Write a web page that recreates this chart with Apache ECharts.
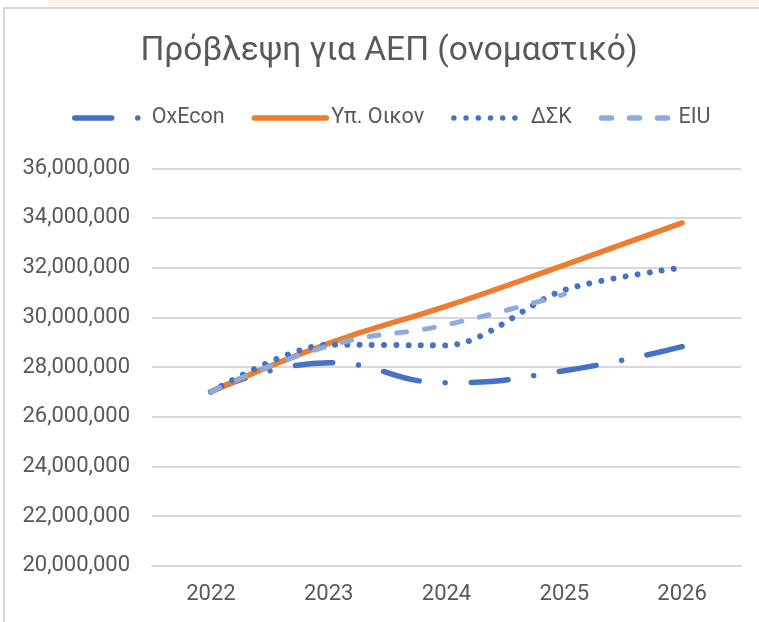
<!DOCTYPE html>
<html>
<head>
<meta charset="utf-8">
<script src="https://cdn.jsdelivr.net/npm/echarts@6/dist/echarts.min.js"></script>
<style>
html,body{margin:0;padding:0;background:#fff;}
#chart{width:759px;height:622px;}
</style>
</head>
<body>
<div id="chart"></div>
<script>
const titleText = 'Πρόβλεψη για ΑΕΠ (ονομαστικό)';
const categories = ['2022', '2023', '2024', '2025', '2026'];
const seriesNames = ['OxEcon', 'Υπ. Οικον', 'ΔΣΚ', 'EIU'];
const oxEcon = [27000000, 28170000, 27370000, 27850000, 28820000];
const ypOikon = [27000000, 28950000, 30450000, 32100000, 33800000];
const dsk = [27000000, 28900000, 28870000, 31100000, 32000000];
const eiu = [27000000, 28850000, 29700000, 30930000, null];
const yMin = 20000000, yMax = 36000000, yStep = 2000000;

const FONT = 'Roboto';
const TXT = '#595959';

const chart = echarts.init(document.getElementById('chart'), null, {renderer: 'canvas'});
chart.setOption({
  backgroundColor: '#ffffff',
  animation: false,
  graphic: [
    {type: 'rect', shape: {x: 48, y: 0, width: 711, height: 7}, style: {fill: '#FDF6EE'}, silent: true},
    {type: 'rect', shape: {x: 3, y: 7, width: 756, height: 2}, style: {fill: '#D9D9D9'}, silent: true},
    {type: 'rect', shape: {x: 3, y: 7, width: 2, height: 615}, style: {fill: '#D9D9D9'}, silent: true}
  ],
  title: {
    text: titleText,
    left: 389,
    top: 35,
    padding: 0,
    textAlign: 'center',
    textStyle: {fontFamily: FONT, fontSize: 33.5, fontWeight: 'normal', color: TXT}
  },
  legend: {
    data: seriesNames,
    left: 72,
    top: 107,
    padding: 0,
    itemWidth: 72,
    itemHeight: 14,
    itemGap: 27,
    itemStyle: {color: 'transparent', borderColor: 'transparent', borderWidth: 0, opacity: 0},
    lineStyle: {width: 5.5},
    textStyle: {fontFamily: FONT, fontSize: 21.5, color: TXT}
  },
  grid: {left: 152, right: 18, top: 168.3, bottom: 56.3, containLabel: false},
  xAxis: {
    type: 'category',
    data: categories,
    boundaryGap: true,
    axisLine: {show: true, lineStyle: {color: '#D9D9D9', width: 2}},
    axisTick: {show: false},
    axisLabel: {fontFamily: FONT, fontSize: 22, color: TXT, margin: 18}
  },
  yAxis: {
    type: 'value',
    min: yMin,
    max: yMax,
    interval: yStep,
    axisLine: {show: false},
    axisTick: {show: false},
    splitLine: {lineStyle: {color: '#D9D9D9', width: 2}},
    axisLabel: {
      fontFamily: FONT, fontSize: 22, color: TXT, margin: 22,
      formatter: v => v.toLocaleString('en-US')
    }
  },
  series: [
    {
      name: seriesNames[0], type: 'line', data: oxEcon, smooth: 0.5, symbol: 'none',
      lineStyle: {color: '#4472C4', width: 5.5, type: [37, 26, 0.01, 26], cap: 'round'},
      itemStyle: {color: '#4472C4'}
    },
    {
      name: seriesNames[1], type: 'line', data: ypOikon, smooth: 0.5, symbol: 'none',
      lineStyle: {color: '#ED7D31', width: 5.5, cap: 'round'},
      itemStyle: {color: '#ED7D31'}
    },
    {
      name: seriesNames[2], type: 'line', data: dsk, smooth: 0.3, symbol: 'none',
      lineStyle: {color: '#4472C4', width: 6, type: [0.01, 12.2], cap: 'round'},
      itemStyle: {color: '#4472C4'}
    },
    {
      name: seriesNames[3], type: 'line', data: eiu, smooth: 0.5, symbol: 'none',
      lineStyle: {color: '#8FAADC', width: 5, type: [10, 18], cap: 'round'},
      itemStyle: {color: '#8FAADC'}
    }
  ]
});
</script>
</body>
</html>
